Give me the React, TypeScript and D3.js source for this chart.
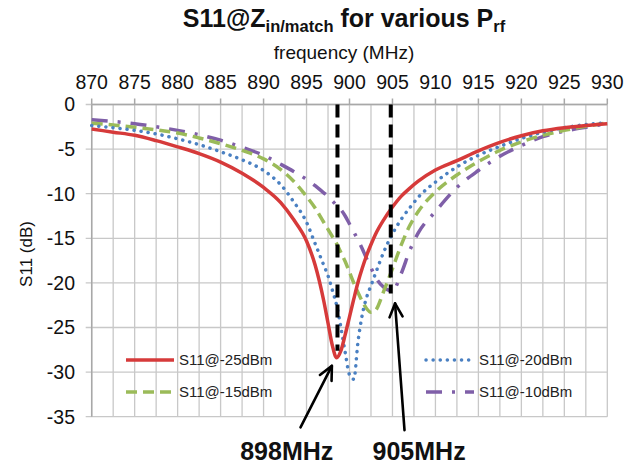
import React, { useEffect, useRef } from 'react';
import * as d3 from 'd3';

// frequency grid (MHz) shared by all four traces
const freqs = [
  870, 872.5, 875, 877.5, 880, 882.5, 885, 887.5, 890, 892, 893.5, 895, 896, 897, 897.5,
  898, 898.5, 899, 899.5, 900, 900.5, 901, 901.5, 902, 902.5, 903, 904, 905, 906, 907,
  908, 910, 912.5, 915, 917.5, 920, 922.5, 925, 927.5, 930,
];

// S11 (dB) per input power
const s11m25 = [
  -2.75, -3.1, -3.45, -4.05, -4.75, -5.5, -6.45, -7.7, -9.3, -11.0, -12.9, -15.3, -18.0, -22.0, -24.5,
  -27.0, -28.4, -27.6, -25.8, -23.8, -21.8, -19.9, -18.3, -16.9, -15.7, -14.6, -12.9, -11.5, -10.3, -9.4,
  -8.6, -7.35, -6.3, -5.2, -4.25, -3.5, -2.95, -2.6, -2.35, -2.15,
];
const s11m20 = [
  -2.35, -2.6, -2.9, -3.3, -3.85, -4.5, -5.3, -6.2, -7.4, -9.0, -10.9, -13.2, -15.6, -18.0, -19.2,
  -20.8, -22.5, -25.0, -27.8, -30.3, -30.8, -26.5, -23.5, -21.6, -20.3, -19.0, -16.5, -14.5, -12.9, -11.6,
  -10.4, -8.7, -7.0, -5.7, -4.7, -3.8, -3.1, -2.6, -2.25, -2.05,
];
const s11m15 = [
  -2.1, -2.3, -2.55, -2.85, -3.2, -3.75, -4.4, -5.15, -6.1, -7.3, -8.6, -10.3, -11.6, -13.2, -14.0,
  -14.8, -15.6, -16.6, -17.6, -18.8, -20.0, -21.1, -22.1, -22.9, -23.3, -23.1, -20.9, -18.4, -15.8, -13.6,
  -12.0, -9.8, -7.9, -6.4, -5.15, -4.2, -3.45, -2.9, -2.45, -2.05,
];
const s11m10 = [
  -1.7, -1.9, -2.15, -2.5, -2.9, -3.4, -4.0, -4.8, -5.7, -6.7, -7.5, -8.4, -9.1, -9.9, -10.3,
  -10.8, -11.3, -11.8, -12.5, -13.4, -14.3, -15.2, -16.2, -17.3, -18.3, -19.3, -20.5, -20.9, -19.0, -16.4,
  -14.4, -12.0, -9.3, -7.4, -5.8, -4.6, -3.6, -3.0, -2.55, -2.15,
];

const seriesNames = ['S11@-25dBm', 'S11@-20dBm', 'S11@-15dBm', 'S11@-10dBm'];
const xTicks = [870, 875, 880, 885, 890, 895, 900, 905, 910, 915, 920, 925, 930];
const yTicks = [0, -5, -10, -15, -20, -25, -30, -35];

// annotation: marker lines and arrows
const markerFreqs = [898.6, 904.8];
const markerEnds = [-27.6, -21.2];
const markerLabels = ['898MHz', '905MHz'];
const arrowTips = [[897.95, -29.3], [905.3, -22.3]];
const arrowTails = [[894.3, -36.2], [906.4, -36.5]];
const labelAt = [[892.7, -39.9], [908.1, -39.9]];

const W = 636;
const H = 466;

const App = () => {
  const svgRef = useRef(null);

  useEffect(() => {
    const svg = d3.select(svgRef.current);
    svg.selectAll('*').remove();

    const x = d3.scaleLinear().domain([870, 930]).range([91.7, 607.3]);
    const y = d3.scaleLinear().domain([0, -35]).range([104.5, 416.7]);
    const font = 'Liberation Sans, Arial, sans-serif';

    // grid
    const grid = svg.append('g').attr('stroke', '#c8c8c8').attr('stroke-width', 1.3);
    grid.selectAll('.vg')
      .data(d3.range(870, 930.01, 2.5))
      .join('line')
      .attr('x1', d => x(d)).attr('x2', d => x(d))
      .attr('y1', y(0)).attr('y2', y(-35));
    grid.selectAll('.hg')
      .data(yTicks)
      .join('line')
      .attr('x1', x(870) - 6).attr('x2', x(930))
      .attr('y1', d => y(d)).attr('y2', d => y(d));

    // top axis
    const axisG = svg.append('g').attr('stroke', '#a8a8a8').attr('stroke-width', 1.5);
    axisG.append('line').attr('x1', x(870)).attr('x2', x(930)).attr('y1', y(0)).attr('y2', y(0));
    axisG.append('line').attr('x1', x(870)).attr('x2', x(870)).attr('y1', y(0)).attr('y2', y(-35));
    axisG.selectAll('.tk')
      .data(xTicks)
      .join('line')
      .attr('x1', d => x(d)).attr('x2', d => x(d))
      .attr('y1', y(0) - 6).attr('y2', y(0));

    svg.append('g')
      .selectAll('text')
      .data(xTicks)
      .join('text')
      .attr('x', d => x(d))
      .attr('y', 88.5)
      .attr('text-anchor', 'middle')
      .attr('font-family', font)
      .attr('font-size', 19.5)
      .attr('fill', '#111')
      .text(d => d);

    svg.append('g')
      .selectAll('text')
      .data(yTicks)
      .join('text')
      .attr('x', 75)
      .attr('y', d => y(d))
      .attr('dy', '0.35em')
      .attr('text-anchor', 'end')
      .attr('font-family', font)
      .attr('font-size', 19.5)
      .attr('fill', '#111')
      .text(d => d);

    svg.append('text')
      .attr('x', 344).attr('y', 59)
      .attr('text-anchor', 'middle')
      .attr('font-family', font)
      .attr('font-size', 19)
      .attr('fill', '#111')
      .text('frequency (MHz)');

    svg.append('text')
      .attr('transform', 'translate(32,254) rotate(-90)')
      .attr('text-anchor', 'middle')
      .attr('font-family', font)
      .attr('font-size', 17)
      .attr('fill', '#111')
      .text('S11 (dB)');

    // title
    const title = svg.append('text')
      .attr('x', 344).attr('y', 27)
      .attr('text-anchor', 'middle')
      .attr('font-family', font)
      .attr('font-weight', 'bold')
      .attr('font-size', 25)
      .attr('fill', '#111');
    title.append('tspan').text('S11@Z');
    title.append('tspan').attr('font-size', 16.5).attr('dy', 5).text('in/match');
    title.append('tspan').attr('dy', -5).text(' for various P');
    title.append('tspan').attr('font-size', 16.5).attr('dy', 5).text('rf');

    // traces
    const series = [
      { name: seriesNames[3], vals: s11m10, color: '#7f5fa8', dash: '16 10 3 10', cap: 'butt' },
      { name: seriesNames[2], vals: s11m15, color: '#9bbb59', dash: '11 6', cap: 'butt' },
      { name: seriesNames[1], vals: s11m20, color: '#4a80c2', dash: '0.1 7', cap: 'round' },
      { name: seriesNames[0], vals: s11m25, color: '#d63a3a', dash: null, cap: 'butt' },
    ];
    const line = d3.line()
      .x(d => x(d[0]))
      .y(d => y(d[1]))
      .curve(d3.curveMonotoneX);

    series.forEach(s => {
      svg.append('path')
        .datum(freqs.map((f, i) => [f, s.vals[i]]))
        .attr('d', line)
        .attr('fill', 'none')
        .attr('stroke', s.color)
        .attr('stroke-width', 3.5)
        .attr('stroke-linecap', s.cap)
        .attr('stroke-dasharray', s.dash);
    });

    // legend: red / green on the left, blue / purple on the right
    const legendPos = [
      { s: series[3], x0: 126, y0: 360 },
      { s: series[1], x0: 126, y0: 392 },
      { s: series[2], x0: 426, y0: 360 },
      { s: series[0], x0: 426, y0: 392 },
    ];
    legendPos.forEach(({ s, x0, y0 }) => {
      svg.append('line')
        .attr('x1', x0).attr('x2', x0 + (s.dash === '0.1 7' ? 45 : 48))
        .attr('y1', y0).attr('y2', y0)
        .attr('stroke', s.color)
        .attr('stroke-width', 3.5)
        .attr('stroke-linecap', s.cap)
        .attr('stroke-dasharray', s.dash);
      svg.append('text')
        .attr('x', x0 + 53).attr('y', y0)
        .attr('dy', '0.35em')
        .attr('font-family', font)
        .attr('font-size', 15)
        .attr('fill', '#222')
        .text(s.name);
    });

    // marker lines
    svg.append('g')
      .selectAll('line')
      .data(markerFreqs)
      .join('line')
      .attr('x1', d => x(d)).attr('x2', d => x(d))
      .attr('y1', y(0)).attr('y2', (d, i) => y(markerEnds[i]))
      .attr('stroke', '#000')
      .attr('stroke-width', 4)
      .attr('stroke-dasharray', '13 7');

    // arrows
    arrowTips.forEach((tip, i) => {
      const tx = x(tip[0]);
      const ty = y(tip[1]);
      const sx = x(arrowTails[i][0]);
      const sy = y(arrowTails[i][1]);
      const ang = Math.atan2(ty - sy, tx - sx);
      const len = 15;
      const spread = 0.45;
      const g = svg.append('g').attr('stroke', '#000').attr('stroke-width', 2.6)
        .attr('fill', 'none').attr('stroke-linecap', 'round').attr('stroke-linejoin', 'round');
      g.append('line').attr('x1', sx).attr('y1', sy).attr('x2', tx).attr('y2', ty);
      g.append('path').attr('d', d3.line()([
        [tx - len * Math.cos(ang - spread), ty - len * Math.sin(ang - spread)],
        [tx, ty],
        [tx - len * Math.cos(ang + spread), ty - len * Math.sin(ang + spread)],
      ]));
      svg.append('text')
        .attr('x', x(labelAt[i][0]))
        .attr('y', y(labelAt[i][1]))
        .attr('text-anchor', 'middle')
        .attr('font-family', font)
        .attr('font-weight', 'bold')
        .attr('font-size', 25)
        .attr('fill', '#111')
        .text(markerLabels[i]);
    });
  }, []);

  return (
    <svg
      ref={svgRef}
      width={W}
      height={H}
      style={{ position: 'absolute', left: 0, top: 0, background: '#fff' }}
    />
  );
};

export default App;
